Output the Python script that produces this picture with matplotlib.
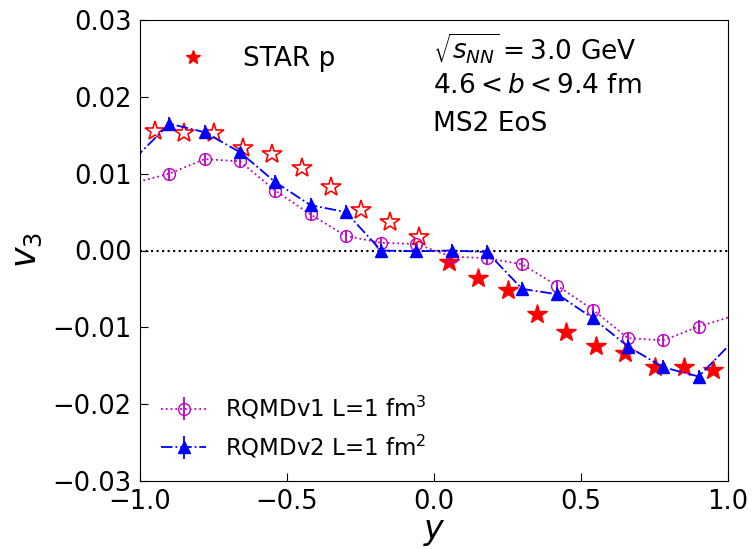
import numpy as np
import matplotlib
matplotlib.use('Agg')
import matplotlib.pyplot as plt
from matplotlib.ticker import FuncFormatter

# datos RQMD (puntos en y, incluye los de fuera del rango visible)
y_model = [-1.02, -0.90, -0.78, -0.66, -0.54, -0.42, -0.30, -0.18, -0.06,
           0.06, 0.18, 0.30, 0.42, 0.54, 0.66, 0.78, 0.90, 1.02]
v3_rqmdv1 = [0.0088, 0.0100, 0.0119, 0.0116, 0.0078, 0.0047, 0.0019, 0.0010, 0.00085,
             -0.0008, -0.0010, -0.0018, -0.0046, -0.0077, -0.0114, -0.0117, -0.0099, -0.0085]
err_rqmdv1 = [0.0008] * len(y_model)
v3_rqmdv2 = [0.0119, 0.0165, 0.0154, 0.0128, 0.0089, 0.0059, 0.0050, 0.0000, -0.0001,
             0.0000, -0.0002, -0.0050, -0.0057, -0.0088, -0.0125, -0.0152, -0.0164, -0.0117]
err_rqmdv2 = [0.0009] * len(y_model)

# datos STAR (y > 0 medidos, y < 0 reflejados)
y_star = [0.05, 0.15, 0.25, 0.35, 0.45, 0.55, 0.65, 0.75, 0.85, 0.95]
v3_star = [-0.0015, -0.0036, -0.0051, -0.0083, -0.0106, -0.0124, -0.0134, -0.0152, -0.0152, -0.0156]
y_star_refl = [-0.05, -0.15, -0.25, -0.35, -0.45, -0.55, -0.65, -0.75, -0.85, -0.95]
v3_star_refl = [0.0017, 0.0037, 0.0053, 0.0083, 0.0108, 0.0126, 0.0134, 0.0153, 0.0153, 0.0156]

fig = plt.figure(figsize=(7.54, 5.49), dpi=100)
ax = fig.add_axes([140/754, 1 - 481/549, 588/754, 461/549])

ax.axhline(0, color='k', ls=':', lw=1.5)

l1 = ax.errorbar(y_model, v3_rqmdv1, yerr=err_rqmdv1, fmt='o:', color='m',
                 mfc='none', ms=8.5, lw=1.3, elinewidth=1.3, capsize=0,
                 label='RQMDv1 L=1 fm$^3$')
l2 = ax.errorbar(y_model, v3_rqmdv2, yerr=err_rqmdv2, fmt='^-.', color='b',
                 ms=8.5, lw=1.3, elinewidth=1.3, capsize=0,
                 label='RQMDv2 L=1 fm$^2$')

s1, = ax.plot(y_star, v3_star, '*', color='r', ms=15, ls='none', label='STAR p')
ax.plot(y_star_refl, v3_star_refl, '*', color='r', mfc='white', mec='r', ms=15,
        mew=1.2, ls='none')

ax.set_xlim(-1, 1)
ax.set_ylim(-0.03, 0.03)
ax.set_xticks([-1.0, -0.5, 0.0, 0.5, 1.0])
ax.set_yticks([-0.03, -0.02, -0.01, 0.0, 0.01, 0.02, 0.03])
ax.yaxis.set_major_formatter(FuncFormatter(lambda v, p: f'{v:.2f}'.replace('-', '\u2212')))
ax.xaxis.set_major_formatter(FuncFormatter(lambda v, p: f'{v:.1f}'.replace('-', '\u2212')))
ax.tick_params(direction='in', labelsize=18.5, length=6, pad=6)
ax.set_xlabel('$y$', fontsize=24, labelpad=0)
ax.set_ylabel('$v_3$', fontsize=25, labelpad=6)

leg1 = ax.legend(handles=[s1], loc='upper left', frameon=False, fontsize=19,
                 markerscale=0.7, handlelength=2.2, bbox_to_anchor=(0.0, 0.995))
ax.add_artist(leg1)
ax.legend(handles=[l1, l2], loc='lower left', frameon=False, fontsize=16.5,
          handlelength=2.0, bbox_to_anchor=(0.0, 0.0))

ax.text(0.498, 0.939, r'$\sqrt{s_{NN}}=3.0$ GeV', transform=ax.transAxes,
        fontsize=19, va='center')
ax.text(0.498, 0.857, r'$4.6<b<9.4$ fm', transform=ax.transAxes,
        fontsize=19, va='center')
ax.text(0.498, 0.774, 'MS2 EoS', transform=ax.transAxes,
        fontsize=19, va='center')

fig.savefig('out.png', dpi=100)
